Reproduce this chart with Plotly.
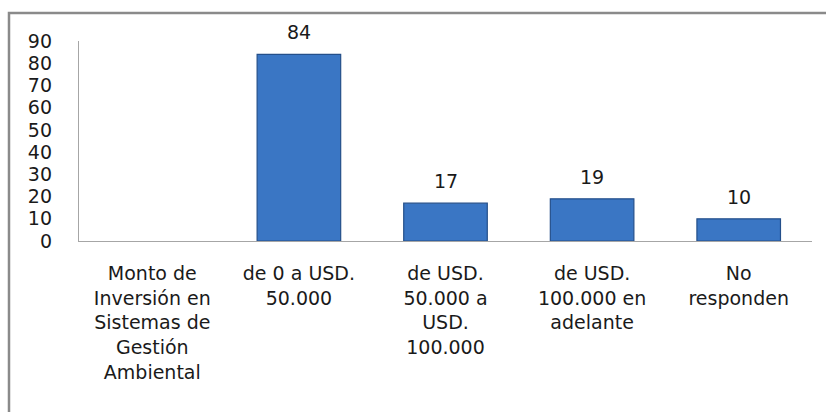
import plotly.graph_objects as go

categories = [
    "Monto de<br>Inversión en<br>Sistemas de<br>Gestión<br>Ambiental",
    "de 0 a USD.<br>50.000",
    "de USD.<br>50.000 a<br>USD.<br>100.000",
    "de USD.<br>100.000 en<br>adelante",
    "No<br>responden",
]
values = [None, 84, 17, 19, 10]
y_ticks = [0, 10, 20, 30, 40, 50, 60, 70, 80, 90]

FONT = "DejaVu Sans"
FS = 19

fig = go.Figure()
fig.add_trace(go.Bar(
    x=categories, y=values,
    marker=dict(color="#3A76C4", line=dict(color="#244F8A", width=1.2)),
    width=0.57, hoverinfo="skip",
))

for c, v in zip(categories, values):
    if v is None:
        continue
    fig.add_annotation(x=c, y=v, text=str(v), showarrow=False,
                       yanchor="bottom", yshift=9,
                       font=dict(family=FONT, size=FS, color="#1a1a1a"))

fig.update_layout(
    width=826, height=412,
    margin=dict(l=79, r=14, t=41, b=171, autoexpand=False),
    paper_bgcolor="white", plot_bgcolor="white",
    showlegend=False,
    font=dict(family=FONT, size=FS, color="#1a1a1a"),
    xaxis=dict(showline=True, linecolor="#a6a6a6", linewidth=1.3,
               ticks="", showgrid=False, ticklabelstandoff=15,
               automargin=False, tickfont=dict(family=FONT, size=FS)),
    yaxis=dict(range=[0, 90], tickvals=y_ticks, showline=True,
               linecolor="#a6a6a6", linewidth=1.3, ticks="",
               showgrid=False, zeroline=False, ticklabelstandoff=22,
               automargin=False, tickfont=dict(family=FONT, size=FS)),
    shapes=[dict(type="rect", xref="paper", yref="paper",
                 x0=-0.0955, x1=1.2, y0=-1.2, y1=1.14,
                 line=dict(color="#8a8a8a", width=2.5), layer="below")],
)

fig.write_html(
    "out.html",
    config={"displayModeBar": False},
    post_script="document.body.style.margin='0px';document.body.style.overflow='hidden';",
)
